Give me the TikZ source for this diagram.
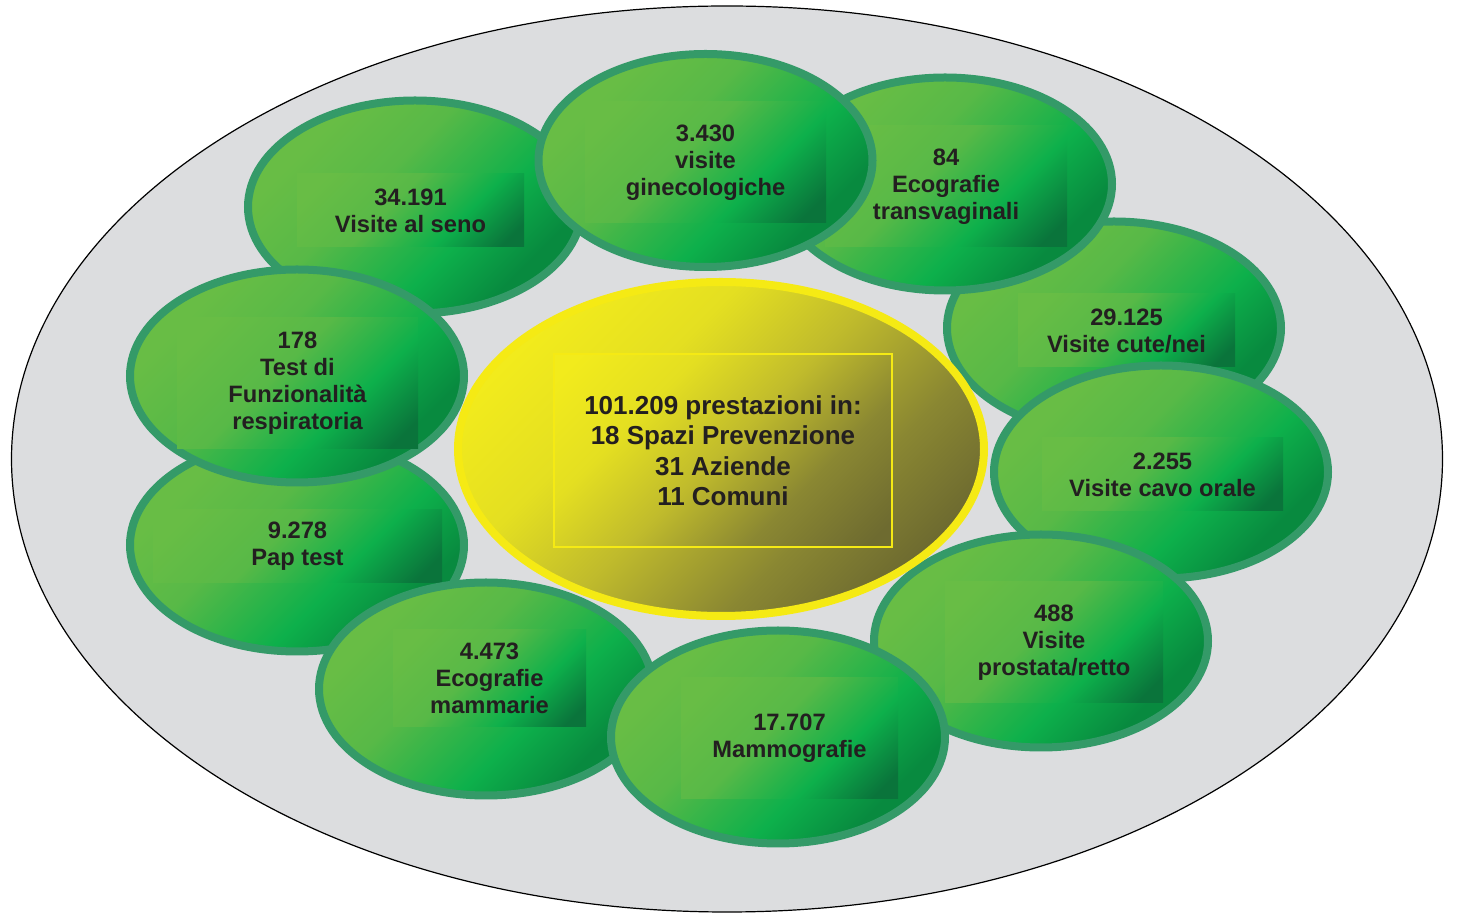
\documentclass[tikz,border=0pt]{standalone}
\usepackage{fontspec}
\setmainfont{Liberation Sans}
\usetikzlibrary{shapes.geometric}

\definecolor{platefill}{HTML}{DCDDDF}
\definecolor{rimgreen}{HTML}{349A68}
\definecolor{lightgreen}{HTML}{68BD45}
\definecolor{softgreen}{HTML}{58B947}
\definecolor{brightgreen}{HTML}{0DB04B}
\definecolor{darkgreen}{HTML}{088A3F}
\definecolor{deepgreen}{HTML}{0A743B}
\definecolor{sunyellow}{HTML}{F5EA14}
\definecolor{paleyellow}{HTML}{F2EB1C}
\definecolor{warmyellow}{HTML}{E4DF21}
\definecolor{midyellow}{HTML}{C0BB2C}
\definecolor{dullolive}{HTML}{8A8732}
\definecolor{darkolive}{HTML}{6E6B30}
\definecolor{inkgray}{HTML}{231F20}

\pgfdeclareverticalshading{bubbleshade}{100bp}{color(0bp)=(darkgreen); color(28bp)=(darkgreen); color(40bp)=(brightgreen); color(58bp)=(softgreen); color(72bp)=(lightgreen); color(100bp)=(lightgreen)}
\pgfdeclareverticalshading{tagshade}{100bp}{color(0bp)=(deepgreen); color(20bp)=(deepgreen); color(36bp)=(brightgreen); color(56bp)=(softgreen); color(78bp)=(lightgreen); color(100bp)=(lightgreen)}
\pgfdeclareverticalshading{hubshade}{100bp}{color(0bp)=(darkolive); color(25bp)=(darkolive); color(36bp)=(dullolive); color(50bp)=(midyellow); color(62bp)=(warmyellow); color(75bp)=(paleyellow); color(100bp)=(paleyellow)}
\pgfdeclareverticalshading{hubtagshade}{100bp}{color(0bp)=(darkolive); color(18bp)=(darkolive); color(34bp)=(dullolive); color(50bp)=(midyellow); color(66bp)=(warmyellow); color(82bp)=(paleyellow); color(100bp)=(paleyellow)}

\tikzset{
  plate/.style={ellipse, draw=black, line width=1.2pt, fill=platefill,
    minimum width=1431pt, minimum height=906pt, inner sep=0pt},
  bubble/.style={ellipse, draw=rimgreen, line width=8pt, shade, shading=bubbleshade,
    shading angle=45, minimum width=334pt, minimum height=213pt, inner sep=0pt},
  tag/.style={rectangle, shade, shading=tagshade, shading angle=45, inner sep=0pt,
    align=center, text=inkgray, font=\fontsize{23.7pt}{27pt}\selectfont\bfseries},
  hub/.style={ellipse, draw=sunyellow, line width=8pt, shade, shading=hubshade,
    shading angle=45, minimum width=526pt, minimum height=334pt, inner sep=0pt},
  hubtag/.style={rectangle, draw=sunyellow, line width=1.5pt, shade, shading=hubtagshade,
    shading angle=45, inner sep=0pt, minimum width=338pt, minimum height=193pt,
    align=center, text=inkgray, font=\fontsize{26pt}{30.5pt}\selectfont\bfseries}
}

\begin{document}
\begin{tikzpicture}[x=1pt, y=1pt]
 \useasboundingbox (0,0) rectangle (1457,913);
 \node[plate] (plate) at (727,454) {};
 % bubbles, back to front
 \foreach \n/\x/\y/\tx/\ty/\w/\h/\txt in {
   cute/1114/585/1126.5/582.5/217/73/{29.125\\Visite cute/nei},
   transv/945/729/946/726.5/242/121/{84\\Ecografie\\transvaginali},
   seno/415/706/410.5/702.5/227/73/{34.191\\Visite al seno},
   gineco/705.5/752.5/705.5/750.5/241/121/{3.430\\visite\\ginecologiche},
   orale/1161/441/1162.5/438.5/241/73/{2.255\\Visite cavo orale},
   prostata/1041/272/1054/270.5/218/121/{488\\Visite\\prostata/retto},
   pap/297/368/297.5/366.5/289/73/{9.278\\Pap test},
   resp/297/537/297.5/529.5/241/131/{178\\Test di\\Funzionalità\\respiratoria},
   ecomam/486/224/489.5/234.5/193/97/{4.473\\Ecografie\\mammarie},
   mammo/778/176/789.5/174.5/217/121/{17.707\\Mammografie}}
 {
   \node[bubble] (\n) at (\x,\y) {};
   \node[tag, minimum width=\w pt, minimum height=\h pt] (\n-tag) at (\tx,\ty) {\txt};
 }
 \node[hub] (hub) at (721,464) {};
 \node[hubtag] (hubtag) at (723,462.5) {101.209 prestazioni in:\\18 Spazi Prevenzione\\31 Aziende\\11 Comuni};
\end{tikzpicture}
\end{document}
